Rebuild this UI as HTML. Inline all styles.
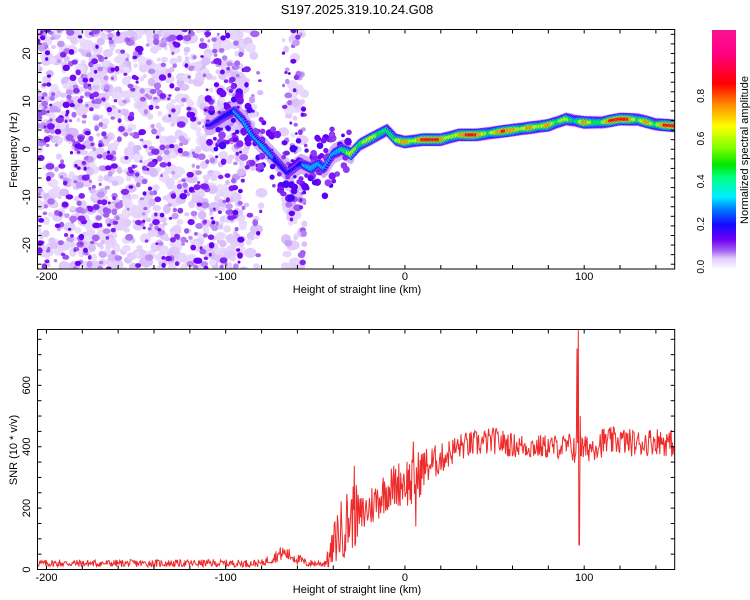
<!DOCTYPE html>
<html><head><meta charset="utf-8"><style>
body{margin:0;background:#fff;}
svg{display:block;font-family:"Liberation Sans",sans-serif;}
</style></head><body>
<svg id="chart" width="750" height="600" xmlns="http://www.w3.org/2000/svg">
<text x="357" y="14" text-anchor="middle" font-size="13">S197.2025.319.10.24.G08</text>
<g id="spec"></g>
<g id="snr"></g>
<g id="cbar"></g>
<g id="axes"></g>
<text x="357" y="293" text-anchor="middle" font-size="11">Height of straight line (km)</text>
<text x="357" y="593" text-anchor="middle" font-size="11">Height of straight line (km)</text>
<text transform="translate(17,150) rotate(-90)" text-anchor="middle" font-size="11">Frequency (Hz)</text>
<text transform="translate(17,450) rotate(-90)" text-anchor="middle" font-size="11">SNR (10 * v/v)</text>
<text transform="translate(748,150) rotate(-90)" text-anchor="middle" font-size="11">Normalized spectral amplitude</text>
</svg>
<script>
// ---- data ----
const ridgeKm   = [-108,-100,-95,-90,-85,-80,-75,-70,-65,-58,-52,-48,-45,-40,-35,-30,-25,-20,-15,-10,-5,0,10,20,30,40,50,60,70,80,90,100,110,120,130,140,150];
const ridgeHz   = [5,7,8,6,3,1,-1,-3,-5,-3,-4,-3,-4,-1,0,-1,1,2,3,4,2,1.5,2,2,3,3,3.5,4,4.5,5,6.3,5.6,5.6,6.3,6.2,5.2,4.9];
const ampKm     = [-108,-95,-88,-82,-78,-70,-60,-52,-47,-42,-35,-30,-25,-20,-15,-10,-5,0,5,10,20,25,35,40,47,55,60,65,70,75,80,85,90,95,100,105,110,115,125,130,135,140,145,150];
const ampVal    = [0.2,0.3,0.35,0.3,0.4,0.25,0.2,0.45,0.35,0.3,0.45,0.7,0.55,0.7,0.6,0.5,0.6,0.85,0.6,0.9,0.9,0.6,0.9,0.9,0.55,0.9,0.85,0.6,0.85,0.6,0.85,0.55,0.7,0.4,0.85,0.6,0.55,0.9,0.9,0.55,0.85,0.55,0.9,0.9];
const snrKm     = [-205,-80,-75,-68,-60,-55,-45,-42,-38,-33,-28,-25,-20,-10,0,5,10,20,30,40,50,60,70,80,90,95,100,110,120,130,140,150];
const snrMean   = [20,20,35,55,35,20,20,40,110,150,180,170,200,260,290,280,330,360,400,410,420,405,400,400,400,400,390,415,420,410,420,410];
const snrAmp    = [12,12,18,25,18,12,12,40,90,110,110,70,70,70,80,100,70,50,45,45,45,40,40,40,40,60,45,50,45,45,45,45];
const spikeKm   = [-28.4,4.5,6,96,96.6,97.2,97.8];
const spikeVal  = [338,417,140,720,780,80,500];
const xTicks = [-200,-100,0,100];
const fTicks = [-20,-10,0,10,20];
const sTicks = [0,200,400,600];
const cTicks = [0.0,0.2,0.4,0.6,0.8];

const NS="http://www.w3.org/2000/svg";
const X0=37.5,X1=674.7,KM0=-205,KM1=150.5;
const TY0=29.5,TY1=269,F0=-25,F1=25;
const BY0=329.5,BY1=569.5,S0=0,S1=782;
const xs=k=>X0+(k-KM0)/(KM1-KM0)*(X1-X0);
const yf=f=>TY1-(f-F0)/(F1-F0)*(TY1-TY0);
const ys=s=>BY1-(s-S0)/(S1-S0)*(BY1-BY0);
function interp(xa,ya,x){if(x<=xa[0])return ya[0];for(let i=1;i<xa.length;i++){if(x<=xa[i]){const t=(x-xa[i-1])/(xa[i]-xa[i-1]);return ya[i-1]+t*(ya[i]-ya[i-1]);}}return ya[ya.length-1];}
function mk(tag,attrs,parent){const e=document.createElementNS(NS,tag);for(const k in attrs)e.setAttribute(k,attrs[k]);parent.appendChild(e);return e;}
const cmapStops=[[0,[248,244,255]],[0.04,[225,205,252]],[0.08,[160,90,240]],[0.13,[110,0,245]],[0.2,[20,10,255]],[0.27,[0,120,255]],[0.33,[0,240,255]],[0.42,[0,255,130]],[0.48,[0,230,0]],[0.56,[130,255,0]],[0.66,[255,255,0]],[0.76,[255,140,0]],[0.86,[255,0,0]],[1.0,[255,0,130]],[1.12,[250,20,150]]];
function cmap(v){for(let i=1;i<cmapStops.length;i++){if(v<=cmapStops[i][0]){const a=cmapStops[i-1],b=cmapStops[i];const t=(v-a[0])/(b[0]-a[0]);const c=a[1].map((q,j)=>Math.round(q+t*(b[1][j]-q)));return `rgb(${c})`;}}return 'rgb(250,20,150)';}

// ---- spectrogram ----
const spec=document.getElementById('spec');
const cp=mk('clipPath',{id:'clipT'},spec);
mk('rect',{x:X0,y:TY0,width:X1-X0,height:TY1-TY0},cp);
const sg=mk('g',{'clip-path':'url(#clipT)'},spec);
// background noise texture (seeded)
let seed=12345;const rnd=()=>{seed=(seed*1103515245+12345)%2147483648;return seed/2147483648;};
function noiseRegion(k0,k1,count,fmin,fmax){
  for(const layer of [0,1,2]){
    const n=layer==0?count:layer==1?count*0.4:count*0.28;
    for(let i=0;i<n;i++){
      const k=k0+rnd()*(k1-k0),f=fmin+rnd()*(fmax-fmin);
      const v=layer==0?0.022+rnd()*0.025:layer==1?0.055+rnd()*0.03:0.1+rnd()*0.04;
      const r=layer==0?2+rnd()*3.2:layer==1?1.5+rnd()*2:1.3+rnd()*2;
      const c=mk('ellipse',{cx:xs(k).toFixed(1),cy:yf(f).toFixed(1),rx:(r*(0.8+rnd()*0.6)).toFixed(1),ry:r.toFixed(1),fill:cmap(v)},sg);
      
      
    }
  }
}
noiseRegion(-206,-90,950,-26,26);
noiseRegion(-92,-80,45,-26,26);
noiseRegion(-68,-56,85,-26,26);
// ridge halo
for(let k=-110;k<=152;k+=0.8){
  const f=interp(ridgeKm,ridgeHz,k);
  const cx=xs(k),cy=yf(f);
  mk('ellipse',{cx:cx,cy:cy,rx:4,ry:k<-30?10:7,fill:cmap(k<-30?0.05:0.03)},sg);
}
// scattered blobs near left ridge
for(let i=0;i<160;i++){
  const k=-110+rnd()*80,f=interp(ridgeKm,ridgeHz,k)+(rnd()*2-1)*6;
  const c=mk('circle',{cx:xs(k).toFixed(1),cy:yf(f).toFixed(1),r:(1.5+rnd()*2.5).toFixed(1),fill:cmap(0.09+rnd()*0.08)},sg);
  
  
}
for(let k=-110;k<=152;k+=0.8){
  const f=interp(ridgeKm,ridgeHz,k),a=interp(ampKm,ampVal,k);
  const cx=xs(k),cy=yf(f);
  const levels=[0.1,0.2,0.3,0.45,0.6,0.75,0.88];
  levels.forEach(l=>{if(l<=a){const ry=2+5*(a-l)/a;
    const e=mk('ellipse',{cx:cx,cy:cy,rx:2.6,ry:ry.toFixed(1),fill:cmap(l)},sg);
    
    }});
}

// ---- SNR ----
const snr=document.getElementById('snr');
let pts=[];seed=777;
for(let k=KM0;k<=KM1;k+=0.35){
  const m=interp(snrKm,snrMean,k),A=interp(snrKm,snrAmp,k);
  let v=m+A*(rnd()*2-1);
  for(let i=0;i<spikeKm.length;i++){if(Math.abs(k-spikeKm[i])<0.2)v=spikeVal[i];}
  v=Math.max(0,Math.min(S1,v));
  pts.push(xs(k).toFixed(1)+','+ys(v).toFixed(1));
}
const line=mk('polyline',{points:pts.join(' '),fill:'none',stroke:'#ee2a2a','stroke-width':1},snr);



// ---- colorbar ----
const cb=document.getElementById('cbar');
const CBX=712,CBW=24,CBY0=266.7,CBPX=213.5;
for(let y=30;y<268;y++){const v=(CBY0-y)/CBPX*1.0;mk('rect',{x:CBX,y:y,width:CBW,height:1.2,fill:cmap(Math.max(0,v))},cb);}
cTicks.forEach(t=>{const y=CBY0-t*CBPX;
  const tx=mk('text',{transform:`translate(${704},${y}) rotate(-90)`,'text-anchor':'middle','font-size':10},cb);tx.textContent=t.toFixed(1);
  });

// ---- axes ----
const ax=document.getElementById('axes');
function frame(y0,y1,name){const r=mk('rect',{x:X0,y:y0,width:X1-X0,height:y1-y0,fill:'none',stroke:'#000','stroke-width':1},ax);}
frame(TY0,TY1,'top-plot-frame');frame(BY0,BY1,'bottom-plot-frame');
for(let k=-200;k<=150;k+=20){const x=xs(k);
  [[TY0,TY1],[BY0,BY1]].forEach(([a,b])=>{mk('line',{x1:x,y1:a,x2:x,y2:a+4,stroke:'#000'},ax);mk('line',{x1:x,y1:b,x2:x,y2:b-4,stroke:'#000'},ax);});}
xTicks.forEach(k=>{[280,581].forEach(y=>{const t=mk('text',{x:xs(k),y:y,'text-anchor':'middle','font-size':11},ax);t.textContent=k;
  });});
for(let f=-24;f<=24;f+=2){const y=yf(f);mk('line',{x1:X0,y1:y,x2:X0+4,y2:y,stroke:'#000'},ax);mk('line',{x1:X1,y1:y,x2:X1-4,y2:y,stroke:'#000'},ax);}
fTicks.forEach(f=>{const t=mk('text',{transform:`translate(30,${yf(f)}) rotate(-90)`,'text-anchor':'middle','font-size':11},ax);t.textContent=f;
  });
for(let s=0;s<=750;s+=50){const y=ys(s);mk('line',{x1:X0,y1:y,x2:X0+4,y2:y,stroke:'#000'},ax);mk('line',{x1:X1,y1:y,x2:X1-4,y2:y,stroke:'#000'},ax);}
sTicks.forEach(s=>{const t=mk('text',{transform:`translate(30,${ys(s)}) rotate(-90)`,'text-anchor':'middle','font-size':11},ax);t.textContent=s;
  });
</script>
</body></html>
